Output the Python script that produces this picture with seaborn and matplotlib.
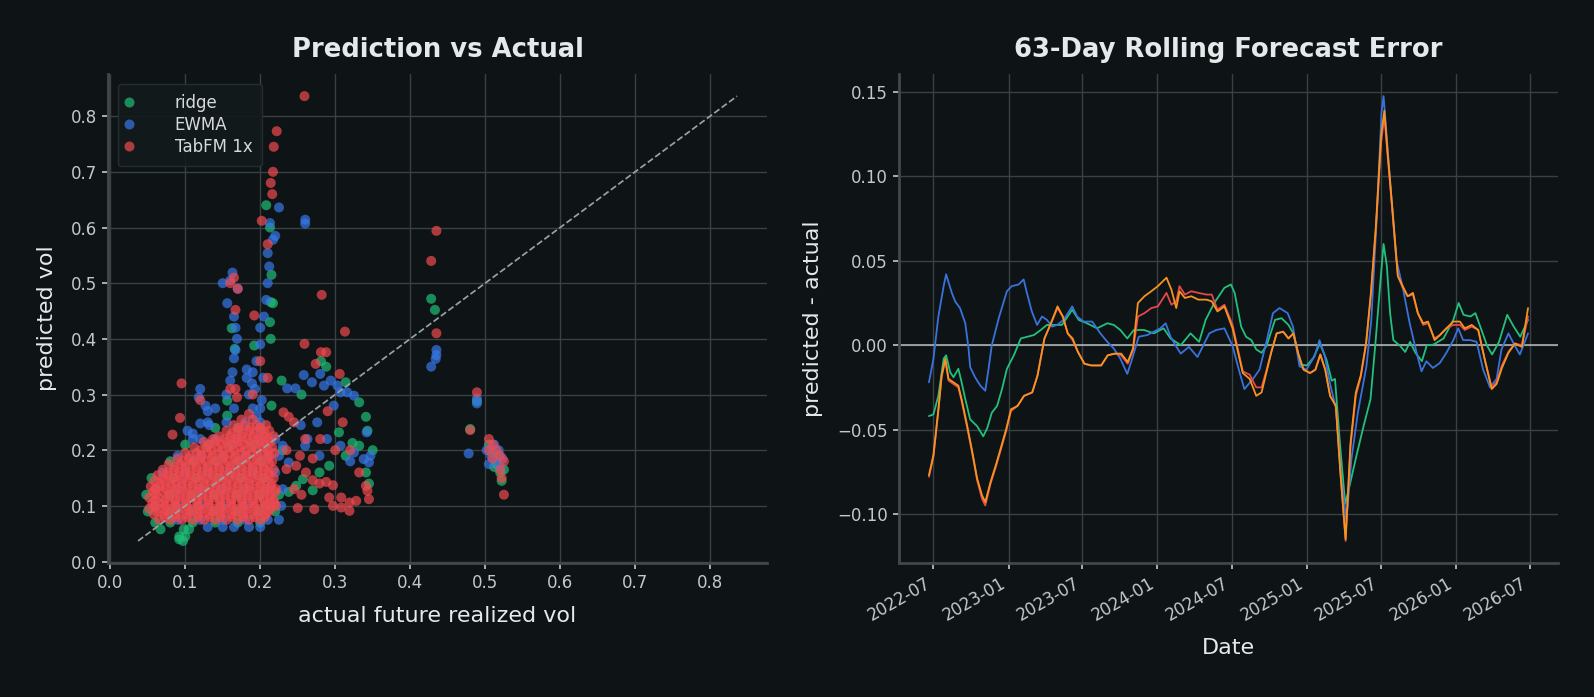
import matplotlib
matplotlib.use("Agg")
import matplotlib.pyplot as plt
import matplotlib.dates as mdates
from matplotlib.ticker import MultipleLocator
import numpy as np
import pandas as pd
import seaborn as sns

# ---------------- data: left panel (actual vs predicted vol) ----------------
# dense core of each cloud, stored as rows: predicted value -> actual values
tabfm_core_y = [0.075, 0.085, 0.095, 0.105, 0.115, 0.125, 0.135, 0.145, 0.155,
                0.165, 0.175, 0.185, 0.195, 0.205, 0.215, 0.225, 0.235, 0.245,
                0.08, 0.09, 0.1, 0.11, 0.12, 0.13, 0.14, 0.15, 0.16, 0.17,
                0.18, 0.19, 0.2, 0.21, 0.22, 0.23, 0.24, 0.255, 0.265]
tabfm_core_x = [
    [0.065, 0.08, 0.095, 0.11, 0.125, 0.14, 0.155, 0.17, 0.185, 0.2],
    [0.058, 0.072, 0.087, 0.102, 0.117, 0.132, 0.147, 0.162, 0.177, 0.192, 0.207],
    [0.052, 0.066, 0.08, 0.094, 0.109, 0.124, 0.139, 0.154, 0.169, 0.184, 0.199, 0.214],
    [0.056, 0.071, 0.086, 0.101, 0.116, 0.131, 0.146, 0.161, 0.176, 0.191, 0.206, 0.219],
    [0.052, 0.065, 0.079, 0.093, 0.108, 0.123, 0.138, 0.153, 0.168, 0.183, 0.198, 0.213],
    [0.057, 0.071, 0.086, 0.101, 0.116, 0.131, 0.146, 0.161, 0.176, 0.191, 0.206, 0.22],
    [0.054, 0.067, 0.081, 0.095, 0.11, 0.125, 0.14, 0.155, 0.17, 0.185, 0.2, 0.214],
    [0.059, 0.073, 0.088, 0.103, 0.118, 0.133, 0.148, 0.163, 0.178, 0.193, 0.208],
    [0.063, 0.077, 0.092, 0.107, 0.122, 0.137, 0.152, 0.167, 0.182, 0.197, 0.212],
    [0.07, 0.085, 0.1, 0.115, 0.13, 0.145, 0.16, 0.175, 0.19, 0.205, 0.218],
    [0.078, 0.093, 0.108, 0.123, 0.138, 0.153, 0.168, 0.183, 0.198, 0.212],
    [0.09, 0.105, 0.12, 0.135, 0.15, 0.165, 0.18, 0.195, 0.21],
    [0.1, 0.115, 0.13, 0.145, 0.16, 0.175, 0.19, 0.205, 0.219],
    [0.112, 0.128, 0.143, 0.158, 0.173, 0.188, 0.203, 0.216],
    [0.125, 0.14, 0.155, 0.17, 0.185, 0.2, 0.213],
    [0.145, 0.16, 0.175, 0.19, 0.205, 0.218],
    [0.155, 0.17, 0.185, 0.2, 0.212],
    [0.165, 0.18, 0.195, 0.208],
    [0.072, 0.087, 0.102, 0.117, 0.132, 0.147, 0.162, 0.177, 0.192, 0.206],
    [0.062, 0.076, 0.091, 0.106, 0.121, 0.136, 0.151, 0.166, 0.181, 0.196, 0.211],
    [0.059, 0.073, 0.087, 0.102, 0.117, 0.132, 0.147, 0.162, 0.177, 0.192, 0.207, 0.221],
    [0.06, 0.073, 0.087, 0.101, 0.116, 0.131, 0.146, 0.161, 0.176, 0.19, 0.205, 0.218],
    [0.061, 0.078, 0.093, 0.108, 0.123, 0.138, 0.153, 0.168, 0.183, 0.198, 0.213],
    [0.06, 0.074, 0.088, 0.103, 0.118, 0.133, 0.148, 0.163, 0.178, 0.193, 0.207, 0.221],
    [0.066, 0.08, 0.095, 0.11, 0.125, 0.14, 0.155, 0.17, 0.185, 0.2, 0.215],
    [0.07, 0.084, 0.099, 0.114, 0.129, 0.144, 0.159, 0.174, 0.189, 0.204, 0.218],
    [0.077, 0.092, 0.107, 0.122, 0.137, 0.152, 0.167, 0.182, 0.197, 0.211],
    [0.086, 0.1, 0.115, 0.13, 0.145, 0.16, 0.175, 0.19, 0.205],
    [0.097, 0.112, 0.127, 0.142, 0.157, 0.172, 0.187, 0.202, 0.216],
    [0.107, 0.122, 0.137, 0.152, 0.167, 0.182, 0.197, 0.212],
    [0.12, 0.135, 0.15, 0.165, 0.18, 0.195, 0.21],
    [0.132, 0.148, 0.163, 0.178, 0.193, 0.207],
    [0.137, 0.152, 0.167, 0.182, 0.197, 0.211],
    [0.162, 0.177, 0.192, 0.206],
    [0.172, 0.187, 0.2],
    [0.175, 0.19],
    [0.185],
]
ewma_core_y = [0.062, 0.075, 0.1, 0.13, 0.16, 0.19, 0.22, 0.25, 0.275, 0.3]
ewma_core_x = [
    [0.13, 0.15, 0.165, 0.185, 0.2],
    [0.09, 0.12, 0.15, 0.18, 0.21, 0.225],
    [0.06, 0.09, 0.12, 0.15, 0.18, 0.21, 0.228],
    [0.06, 0.09, 0.12, 0.15, 0.18, 0.21, 0.23],
    [0.07, 0.1, 0.13, 0.16, 0.19, 0.22],
    [0.09, 0.12, 0.15, 0.18, 0.21, 0.225],
    [0.11, 0.14, 0.17, 0.2, 0.22],
    [0.13, 0.155, 0.18, 0.2],
    [0.14, 0.165, 0.19],
    [0.155, 0.185],
]
ridge_core_y = [0.045, 0.058, 0.07, 0.09, 0.12, 0.15, 0.18, 0.21, 0.24]
ridge_core_x = [
    [0.092, 0.1],
    [0.067, 0.098, 0.105],
    [0.06, 0.08, 0.11, 0.14, 0.17, 0.2],
    [0.05, 0.08, 0.11, 0.14, 0.17, 0.2, 0.22],
    [0.048, 0.08, 0.11, 0.14, 0.17, 0.2, 0.225],
    [0.055, 0.085, 0.115, 0.145, 0.175, 0.205],
    [0.08, 0.11, 0.14, 0.17, 0.2],
    [0.1, 0.13, 0.16, 0.19],
    [0.14, 0.17, 0.2],
]
# scattered points outside the core: (actual, predicted)
ridge_pts = [
    (0.208, 0.64), (0.213, 0.60), (0.215, 0.515), (0.214, 0.466), (0.213, 0.43),
    (0.214, 0.40), (0.217, 0.464), (0.192, 0.388), (0.162, 0.419), (0.166, 0.382),
    (0.156, 0.289), (0.156, 0.262), (0.215, 0.28), (0.428, 0.472), (0.433, 0.452),
    (0.48, 0.238), (0.489, 0.288), (0.505, 0.21), (0.51, 0.195), (0.515, 0.175),
    (0.52, 0.16), (0.522, 0.145), (0.518, 0.19), (0.525, 0.165), (0.512, 0.17),
    (0.2285, 0.325), (0.255, 0.30), (0.281, 0.36), (0.288, 0.35), (0.314, 0.322),
    (0.332, 0.286), (0.341, 0.26), (0.343, 0.235), (0.323, 0.213), (0.314, 0.19),
    (0.292, 0.172), (0.279, 0.16), (0.257, 0.148), (0.248, 0.136), (0.23, 0.2),
    (0.27, 0.128), (0.305, 0.232), (0.341, 0.16), (0.332, 0.208), (0.238, 0.125),
    (0.345, 0.14), (0.35, 0.2), (0.092, 0.04), (0.097, 0.037),
]
ewma_pts = [
    (0.225, 0.636), (0.213, 0.608), (0.26, 0.614), (0.26, 0.607), (0.217, 0.578),
    (0.22, 0.585), (0.21, 0.554), (0.212, 0.53), (0.21, 0.50), (0.208, 0.47),
    (0.205, 0.44), (0.20, 0.42), (0.20, 0.39), (0.195, 0.36), (0.19, 0.34),
    (0.156, 0.464), (0.165, 0.44), (0.167, 0.42), (0.169, 0.40), (0.167, 0.38),
    (0.165, 0.365), (0.163, 0.34), (0.16, 0.325), (0.182, 0.345), (0.182, 0.33),
    (0.189, 0.32), (0.193, 0.31), (0.204, 0.33), (0.202, 0.29), (0.20, 0.275),
    (0.195, 0.26), (0.12, 0.31), (0.118, 0.295), (0.127, 0.28), (0.13, 0.27),
    (0.12, 0.248), (0.132, 0.245), (0.103, 0.235), (0.11, 0.23), (0.12, 0.22),
    (0.163, 0.519), (0.16, 0.505), (0.17, 0.49), (0.15, 0.50),
    (0.435, 0.38), (0.435, 0.371), (0.434, 0.364), (0.428, 0.35), (0.489, 0.293),
    (0.489, 0.284), (0.478, 0.194), (0.502, 0.20), (0.508, 0.19), (0.512, 0.21),
    (0.515, 0.18), (0.52, 0.17), (0.518, 0.20), (0.523, 0.185), (0.505, 0.175),
    (0.236, 0.311), (0.247, 0.311), (0.258, 0.335), (0.269, 0.322), (0.28, 0.337),
    (0.285, 0.316), (0.294, 0.325), (0.303, 0.316), (0.307, 0.304), (0.316, 0.304),
    (0.325, 0.298), (0.298, 0.28), (0.276, 0.25), (0.254, 0.245), (0.263, 0.22),
    (0.289, 0.22), (0.307, 0.208), (0.325, 0.196), (0.338, 0.184), (0.345, 0.178),
    (0.347, 0.19), (0.32, 0.18), (0.342, 0.232), (0.279, 0.19), (0.23, 0.208),
    (0.238, 0.178), (0.26, 0.208),
]
tabfm_pts = [
    (0.259, 0.836), (0.222, 0.773), (0.218, 0.745), (0.217, 0.70), (0.214, 0.68),
    (0.216, 0.66), (0.202, 0.612), (0.21, 0.57), (0.435, 0.594), (0.428, 0.54),
    (0.435, 0.41), (0.313, 0.413), (0.282, 0.479), (0.165, 0.51), (0.16, 0.50),
    (0.17, 0.49), (0.167, 0.452), (0.192, 0.442), (0.095, 0.32), (0.093, 0.258),
    (0.083, 0.228), (0.16, 0.31), (0.167, 0.31), (0.169, 0.295), (0.12, 0.29),
    (0.20, 0.36), (0.21, 0.33), (0.19, 0.30),
    (0.259, 0.391), (0.281, 0.376), (0.288, 0.376), (0.274, 0.355), (0.306, 0.337),
    (0.231, 0.268), (0.238, 0.26), (0.245, 0.25), (0.253, 0.19), (0.261, 0.16),
    (0.27, 0.146), (0.279, 0.14), (0.288, 0.143), (0.297, 0.137), (0.248, 0.172),
    (0.235, 0.166), (0.292, 0.115), (0.308, 0.115), (0.319, 0.106), (0.328, 0.109),
    (0.345, 0.112), (0.341, 0.136), (0.332, 0.16), (0.343, 0.127), (0.25, 0.096),
    (0.272, 0.094), (0.297, 0.10), (0.308, 0.097), (0.319, 0.091), (0.32, 0.20),
    (0.30, 0.20), (0.28, 0.22), (0.26, 0.22), (0.31, 0.25), (0.29, 0.27),
    (0.27, 0.185), (0.235, 0.20), (0.245, 0.13), (0.255, 0.12),
    (0.489, 0.304), (0.48, 0.236), (0.505, 0.22), (0.51, 0.21), (0.515, 0.20),
    (0.52, 0.19), (0.525, 0.18), (0.52, 0.165), (0.522, 0.15), (0.525, 0.12),
    (0.51, 0.185), (0.505, 0.20),
]

# ---------------- data: right panel (63-day rolling error) ----------------
ridge_err = [
    ("2022-06-20", -0.042), ("2022-07-01", -0.041), ("2022-07-13", -0.030), ("2022-07-26", -0.008),
    ("2022-08-01", -0.006), ("2022-08-11", -0.016), ("2022-08-19", -0.019), ("2022-08-31", -0.014),
    ("2022-09-08", -0.022), ("2022-09-17", -0.032), ("2022-09-29", -0.044), ("2022-10-16", -0.048),
    ("2022-10-31", -0.054), ("2022-11-10", -0.049), ("2022-11-21", -0.040), ("2022-12-04", -0.036),
    ("2022-12-16", -0.026), ("2022-12-28", -0.014), ("2023-01-14", -0.006), ("2023-01-31", 0.004),
    ("2023-02-16", 0.005), ("2023-03-04", 0.006), ("2023-03-21", 0.009), ("2023-04-05", 0.012),
    ("2023-04-21", 0.012), ("2023-05-12", 0.012), ("2023-06-06", 0.021), ("2023-06-22", 0.015),
    ("2023-07-12", 0.013), ("2023-08-06", 0.010), ("2023-08-31", 0.013), ("2023-09-16", 0.012),
    ("2023-10-02", 0.009), ("2023-10-19", 0.004), ("2023-11-04", 0.009), ("2023-11-29", 0.009),
    ("2023-12-23", 0.007), ("2024-01-16", 0.010), ("2024-02-02", 0.004), ("2024-02-27", 0.000),
    ("2024-03-22", 0.007), ("2024-04-12", 0.002), ("2024-04-28", 0.015), ("2024-05-19", 0.025),
    ("2024-06-13", 0.034), ("2024-06-29", 0.036), ("2024-07-08", 0.031), ("2024-07-24", 0.011),
    ("2024-08-05", 0.005), ("2024-08-18", 0.003), ("2024-08-30", -0.0025), ("2024-09-12", -0.0045),
    ("2024-09-24", -0.0005), ("2024-10-15", 0.015), ("2024-10-31", 0.016), ("2024-11-17", 0.012),
    ("2024-11-29", 0.007), ("2024-12-16", -0.0115), ("2025-01-01", -0.012), ("2025-01-17", -0.0075),
    ("2025-02-02", 0.001), ("2025-02-18", -0.0085), ("2025-03-03", -0.021), ("2025-03-11", -0.020),
    ("2025-03-23", -0.058), ("2025-04-05", -0.094), ("2025-04-17", -0.082), ("2025-05-04", -0.064),
    ("2025-05-20", -0.048), ("2025-06-06", -0.032), ("2025-06-18", 0.001), ("2025-06-28", 0.031),
    ("2025-07-08", 0.060), ("2025-07-16", 0.047), ("2025-07-24", 0.019), ("2025-08-01", 0.003),
    ("2025-08-18", -0.0005), ("2025-08-30", -0.004), ("2025-09-11", 0.002), ("2025-09-24", -0.0045),
    ("2025-10-10", -0.0095), ("2025-10-22", 0.000), ("2025-11-07", 0.0003), ("2025-12-02", 0.004),
    ("2025-12-26", 0.015), ("2026-01-08", 0.025), ("2026-01-20", 0.018), ("2026-02-06", 0.017),
    ("2026-02-18", 0.019), ("2026-03-02", 0.011), ("2026-03-19", -0.0005), ("2026-03-31", -0.0055),
    ("2026-04-17", 0.002), ("2026-05-07", 0.018), ("2026-05-23", 0.011), ("2026-06-08", 0.005),
    ("2026-06-27", 0.015),
]
ewma_err = [
    ("2022-06-20", -0.022), ("2022-07-01", -0.008), ("2022-07-13", 0.017), ("2022-07-26", 0.035),
    ("2022-08-01", 0.042), ("2022-08-15", 0.031), ("2022-08-23", 0.026), ("2022-09-04", 0.022),
    ("2022-09-17", 0.013), ("2022-09-25", -0.002), ("2022-09-29", -0.013), ("2022-10-11", -0.019),
    ("2022-10-24", -0.024), ("2022-11-05", -0.027), ("2022-11-13", -0.014), ("2022-11-21", 0.000),
    ("2022-12-08", 0.016), ("2022-12-28", 0.032), ("2023-01-09", 0.035), ("2023-01-26", 0.036),
    ("2023-02-07", 0.039), ("2023-02-15", 0.031), ("2023-02-27", 0.020), ("2023-03-12", 0.012),
    ("2023-03-24", 0.017), ("2023-04-05", 0.015), ("2023-04-18", 0.011), ("2023-04-30", 0.012),
    ("2023-05-16", 0.015), ("2023-06-06", 0.023), ("2023-06-18", 0.017), ("2023-07-04", 0.014),
    ("2023-07-25", 0.014), ("2023-08-14", 0.007), ("2023-08-31", 0.002), ("2023-09-16", -0.002),
    ("2023-10-02", -0.008), ("2023-10-19", -0.017), ("2023-10-31", -0.008), ("2023-11-16", 0.005),
    ("2023-12-07", 0.006), ("2023-12-23", 0.008), ("2024-01-08", 0.010), ("2024-01-21", 0.013),
    ("2024-02-02", 0.005), ("2024-02-14", 0.000), ("2024-02-27", -0.005), ("2024-03-18", -0.001),
    ("2024-04-08", -0.007), ("2024-05-07", 0.007), ("2024-05-24", 0.009), ("2024-06-13", 0.010),
    ("2024-07-03", -0.0005), ("2024-07-20", -0.016), ("2024-08-01", -0.026), ("2024-08-22", -0.020),
    ("2024-09-07", -0.0145), ("2024-09-23", 0.001), ("2024-10-10", 0.019), ("2024-10-26", 0.022),
    ("2024-11-15", 0.019), ("2024-11-28", 0.011), ("2024-12-14", -0.0125), ("2024-12-31", -0.0145),
    ("2025-01-20", -0.0065), ("2025-02-01", 0.003), ("2025-02-14", -0.0065), ("2025-02-26", -0.022),
    ("2025-03-14", -0.038), ("2025-03-26", -0.078), ("2025-04-08", -0.104), ("2025-04-20", -0.068),
    ("2025-05-06", -0.040), ("2025-05-27", -0.0125), ("2025-06-08", 0.015), ("2025-06-20", 0.070),
    ("2025-07-03", 0.138), ("2025-07-08", 0.1476), ("2025-07-15", 0.126), ("2025-07-27", 0.088),
    ("2025-08-08", 0.051), ("2025-08-25", 0.033), ("2025-09-10", 0.013), ("2025-09-27", -0.0045),
    ("2025-10-09", -0.0155), ("2025-10-21", -0.0095), ("2025-11-06", -0.0135), ("2025-11-23", -0.0105),
    ("2025-12-09", -0.0045), ("2025-12-26", 0.003), ("2026-01-07", 0.010), ("2026-01-19", 0.003),
    ("2026-02-05", 0.003), ("2026-02-21", 0.002), ("2026-03-09", -0.0145), ("2026-03-26", -0.025),
    ("2026-04-11", -0.020), ("2026-04-23", -0.0025), ("2026-05-10", 0.007), ("2026-05-26", -0.0005),
    ("2026-06-07", -0.0055), ("2026-06-27", 0.007),
]
tabfm_err = [
    ("2022-06-20", -0.078), ("2022-07-01", -0.066), ("2022-07-13", -0.039), ("2022-07-21", -0.019),
    ("2022-07-30", -0.009), ("2022-08-07", -0.021), ("2022-08-19", -0.023), ("2022-08-31", -0.025),
    ("2022-09-08", -0.033), ("2022-09-21", -0.048), ("2022-10-04", -0.064), ("2022-10-16", -0.080),
    ("2022-10-28", -0.091), ("2022-11-05", -0.095), ("2022-11-18", -0.082), ("2022-12-01", -0.072),
    ("2022-12-13", -0.062), ("2022-12-26", -0.051), ("2023-01-07", -0.039), ("2023-01-23", -0.036),
    ("2023-02-08", -0.030), ("2023-02-28", -0.028), ("2023-03-13", -0.018), ("2023-03-30", 0.004),
    ("2023-04-15", 0.013), ("2023-05-01", 0.022), ("2023-05-14", 0.017), ("2023-05-26", 0.007),
    ("2023-06-07", 0.003), ("2023-06-20", -0.004), ("2023-07-06", -0.011), ("2023-07-23", -0.012),
    ("2023-08-16", -0.012), ("2023-09-01", -0.006), ("2023-09-18", -0.005), ("2023-10-04", -0.006),
    ("2023-10-20", -0.011), ("2023-11-02", -0.003), ("2023-11-14", 0.017), ("2023-11-30", 0.019),
    ("2023-12-17", 0.022), ("2024-01-02", 0.023), ("2024-01-23", 0.031), ("2024-02-04", 0.024),
    ("2024-02-16", 0.026), ("2024-02-24", 0.035), ("2024-03-08", 0.030), ("2024-03-24", 0.032),
    ("2024-04-10", 0.031), ("2024-04-30", 0.030), ("2024-05-13", 0.030), ("2024-05-27", 0.021),
    ("2024-06-13", 0.024), ("2024-07-03", 0.012), ("2024-07-28", -0.0155), ("2024-08-14", -0.0175),
    ("2024-08-30", -0.025), ("2024-09-12", -0.025), ("2024-09-24", -0.015), ("2024-10-06", -0.004),
    ("2024-10-19", 0.007), ("2024-11-04", 0.008), ("2024-11-17", 0.004), ("2024-11-29", 0.007),
    ("2024-12-11", -0.005), ("2024-12-24", -0.0145), ("2025-01-09", -0.0165), ("2025-01-22", -0.0145),
    ("2025-02-03", -0.0055), ("2025-02-15", -0.0145), ("2025-02-27", -0.030), ("2025-03-13", -0.036),
    ("2025-03-25", -0.078), ("2025-04-06", -0.116), ("2025-04-18", -0.060), ("2025-05-01", -0.030),
    ("2025-05-13", -0.019), ("2025-05-26", 0.000), ("2025-06-07", 0.030), ("2025-06-19", 0.068),
    ("2025-07-02", 0.120), ("2025-07-10", 0.136), ("2025-07-18", 0.112), ("2025-07-30", 0.078),
    ("2025-08-12", 0.041), ("2025-08-24", 0.034), ("2025-09-05", 0.029), ("2025-09-18", 0.030),
    ("2025-09-30", 0.019), ("2025-10-13", 0.012), ("2025-10-25", 0.013), ("2025-11-10", 0.004),
    ("2025-11-23", 0.006), ("2025-12-09", 0.010), ("2025-12-26", 0.012), ("2026-01-11", 0.012),
    ("2026-01-23", 0.009), ("2026-02-09", 0.011), ("2026-02-25", 0.009), ("2026-03-13", -0.0085),
    ("2026-03-30", -0.025), ("2026-04-11", -0.022), ("2026-04-24", -0.012), ("2026-05-10", -0.004),
    ("2026-05-26", 0.001), ("2026-06-12", 0.000), ("2026-06-27", 0.017),
]
tabfm_alt_err = [
    ("2022-06-20", -0.077), ("2022-07-01", -0.065), ("2022-07-13", -0.038), ("2022-07-21", -0.018),
    ("2022-07-30", -0.008), ("2022-08-07", -0.020), ("2022-08-19", -0.022), ("2022-08-31", -0.024),
    ("2022-09-08", -0.032), ("2022-09-21", -0.047), ("2022-10-04", -0.063), ("2022-10-16", -0.079),
    ("2022-10-28", -0.089), ("2022-11-05", -0.093), ("2022-11-18", -0.081), ("2022-12-01", -0.071),
    ("2022-12-13", -0.061), ("2022-12-26", -0.050), ("2023-01-07", -0.038), ("2023-01-23", -0.036),
    ("2023-02-08", -0.030), ("2023-02-28", -0.028), ("2023-03-13", -0.018), ("2023-03-30", 0.004),
    ("2023-04-15", 0.013), ("2023-05-01", 0.023), ("2023-05-14", 0.017), ("2023-05-26", 0.007),
    ("2023-06-07", 0.004), ("2023-06-20", -0.004), ("2023-07-06", -0.011), ("2023-07-23", -0.012),
    ("2023-08-16", -0.012), ("2023-09-01", -0.006), ("2023-09-18", -0.005), ("2023-10-04", -0.005),
    ("2023-10-20", -0.010), ("2023-11-02", -0.002), ("2023-11-14", 0.025), ("2023-11-30", 0.029),
    ("2023-12-17", 0.032), ("2024-01-02", 0.035), ("2024-01-23", 0.040), ("2024-02-04", 0.033),
    ("2024-02-16", 0.022), ("2024-02-24", 0.032), ("2024-03-08", 0.028), ("2024-03-24", 0.029),
    ("2024-04-10", 0.027), ("2024-04-30", 0.027), ("2024-05-13", 0.026), ("2024-05-27", 0.020),
    ("2024-06-13", 0.023), ("2024-07-03", 0.010), ("2024-07-28", -0.0165), ("2024-08-14", -0.020),
    ("2024-08-30", -0.030), ("2024-09-12", -0.028), ("2024-09-24", -0.016), ("2024-10-06", -0.004),
    ("2024-10-19", 0.007), ("2024-11-04", 0.008), ("2024-11-17", 0.004), ("2024-11-29", 0.007),
    ("2024-12-11", -0.005), ("2024-12-24", -0.0145), ("2025-01-09", -0.0165), ("2025-01-22", -0.0145),
    ("2025-02-03", -0.0055), ("2025-02-15", -0.0145), ("2025-02-27", -0.030), ("2025-03-13", -0.036),
    ("2025-03-25", -0.078), ("2025-04-06", -0.115), ("2025-04-18", -0.058), ("2025-05-01", -0.028),
    ("2025-05-13", -0.018), ("2025-05-26", 0.001), ("2025-06-07", 0.031), ("2025-06-19", 0.070),
    ("2025-07-02", 0.124), ("2025-07-10", 0.139), ("2025-07-18", 0.114), ("2025-07-30", 0.080),
    ("2025-08-12", 0.041), ("2025-08-24", 0.035), ("2025-09-05", 0.029), ("2025-09-18", 0.031),
    ("2025-09-30", 0.019), ("2025-10-13", 0.013), ("2025-10-25", 0.014), ("2025-11-10", 0.003),
    ("2025-11-23", 0.006), ("2025-12-09", 0.010), ("2025-12-26", 0.014), ("2026-01-11", 0.014),
    ("2026-01-23", 0.010), ("2026-02-09", 0.012), ("2026-02-25", 0.009), ("2026-03-13", -0.0085),
    ("2026-03-30", -0.026), ("2026-04-11", -0.023), ("2026-04-24", -0.0135), ("2026-05-10", -0.0045),
    ("2026-05-26", 0.001), ("2026-06-12", -0.001), ("2026-06-27", 0.022),
]

models = ["ridge", "EWMA", "TabFM 1x"]
scatter_colors = {"ridge": "#1fbd78", "EWMA": "#3677e6", "TabFM 1x": "#f04a50"}
line_colors = {"ridge": "#22c07c", "EWMA": "#3a72db", "TabFM 1x": "#e5474d", "TabFM alt": "#f5941f"}

# ---------------- style ----------------
BG = "#0e1315"
GRID = "#394144"
SPINE = "#3f484b"
TXT = "#e6e9e9"
TICK = "#c3c8c8"
sns.set_theme(style="darkgrid", rc={
    "figure.facecolor": BG, "axes.facecolor": BG, "savefig.facecolor": BG,
    "grid.color": GRID, "grid.linewidth": 1.0,
    "axes.edgecolor": SPINE, "axes.linewidth": 2.0,
    "text.color": TXT, "axes.labelcolor": TXT,
    "xtick.color": TICK, "ytick.color": TICK,
    "xtick.bottom": True, "ytick.left": True,
    "xtick.major.size": 4.5, "ytick.major.size": 4.5,
    "xtick.major.width": 1.2, "ytick.major.width": 1.2,
})
plt.rcParams["font.family"] = ["DejaVu Sans"]


def build_frame():
    rows = []
    for name, cy, cx, pts in [("ridge", ridge_core_y, ridge_core_x, ridge_pts),
                              ("EWMA", ewma_core_y, ewma_core_x, ewma_pts),
                              ("TabFM 1x", tabfm_core_y, tabfm_core_x, tabfm_pts)]:
        for yv, xs in zip(cy, cx):
            for xv in xs:
                rows.append((xv, yv, name))
        for xv, yv in pts:
            rows.append((xv, yv, name))
    return pd.DataFrame(rows, columns=["actual", "predicted", "model"])


scat = build_frame()

fig = plt.figure(figsize=(15.94, 6.97), dpi=100)
ax1 = fig.add_axes([0.0678, 0.192, 0.4134, 0.702])
ax2 = fig.add_axes([0.564, 0.192, 0.4134, 0.702])

# ---- left: scatter ----
sns.scatterplot(data=scat, x="actual", y="predicted", hue="model", hue_order=models,
                palette=scatter_colors, s=52, alpha=0.7, linewidth=0, ax=ax1)
lo = min(scat["actual"].min(), scat["predicted"].min())
hi = max(scat["actual"].max(), scat["predicted"].max())
ax1.plot([lo, hi], [lo, hi], ls="--", color="#9ba1a1", lw=1.25, zorder=3)
ax1.xaxis.set_major_locator(MultipleLocator(0.1))
ax1.yaxis.set_major_locator(MultipleLocator(0.1))
ax1.set_xlabel("actual future realized vol", fontsize=16, color=TXT, labelpad=10)
ax1.set_ylabel("predicted vol", fontsize=16, color=TXT, labelpad=10)
ax1.set_title("Prediction vs Actual", fontsize=18.6, fontweight="bold", color=TXT, pad=12)
leg = ax1.legend(loc="upper left", fontsize=12, frameon=True, borderaxespad=0.6,
                 borderpad=0.6, handlelength=0.1, handletextpad=2.7, labelspacing=0.25,
                 labelcolor="#d6dada")
leg.get_frame().set_facecolor("#131a1c")
leg.get_frame().set_edgecolor("#283033")
leg.get_frame().set_alpha(0.9)

# ---- right: rolling error lines ----
for name, series in [("ridge", ridge_err), ("EWMA", ewma_err),
                     ("TabFM 1x", tabfm_err), ("TabFM alt", tabfm_alt_err)]:
    d = pd.DataFrame(series, columns=["date", "err"])
    d["date"] = pd.to_datetime(d["date"])
    sns.lineplot(data=d, x="date", y="err", color=line_colors[name], lw=1.3, ax=ax2)
ax2.axhline(0, color="#b9bdbd", lw=1.1, zorder=1)
ax2.xaxis.set_major_locator(mdates.MonthLocator(bymonth=[1, 7]))
ax2.xaxis.set_major_formatter(mdates.DateFormatter("%Y-%m"))
ax2.yaxis.set_major_locator(MultipleLocator(0.05))
for lab in ax2.get_xticklabels():
    lab.set_rotation(30)
    lab.set_ha("right")
ax2.set_xlabel("Date", fontsize=16, color=TXT, labelpad=10)
ax2.set_ylabel("predicted - actual", fontsize=16, color=TXT, labelpad=10)
ax2.set_title("63-Day Rolling Forecast Error", fontsize=18.6, fontweight="bold", color=TXT, pad=12)

for ax in (ax1, ax2):
    ax.tick_params(labelsize=12, colors=TICK)
    ax.grid(True, color=GRID, lw=1.0)
    sns.despine(ax=ax)
    for s in ("left", "bottom"):
        ax.spines[s].set_color(SPINE)
        ax.spines[s].set_linewidth(2.0)

fig.savefig("out.png", dpi=100, facecolor=BG)
